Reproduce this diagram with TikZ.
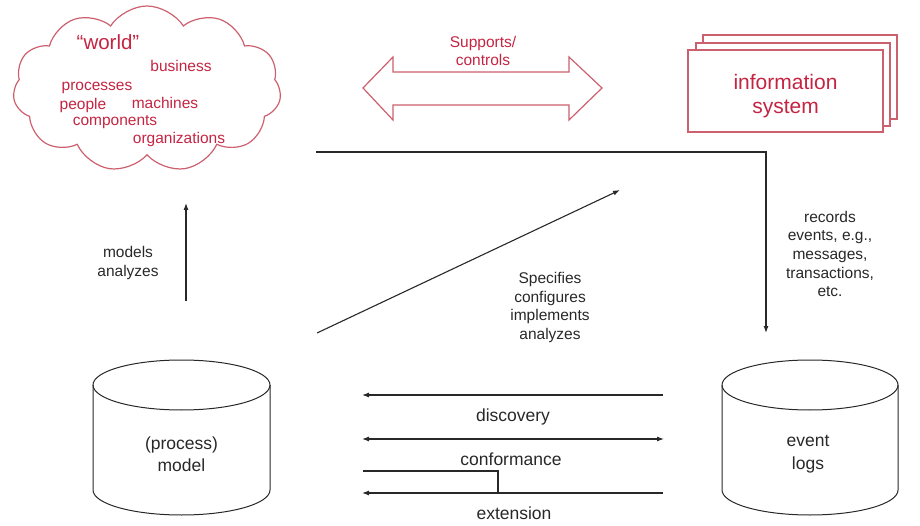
\documentclass[tikz,border=0pt]{standalone}
\usepackage{fontspec}
\setmainfont{Liberation Sans}
\usetikzlibrary{shapes.symbols,arrows.meta}
\definecolor{wred}{RGB}{196,36,66}
\definecolor{wline}{RGB}{204,96,110}
\definecolor{ink}{RGB}{40,40,40}
\tikzset{
  redtext/.style={text=wred,inner sep=0pt,font=\fontsize{15.5}{18}\selectfont},
  lbl/.style={text=ink,inner sep=0pt,align=center,font=\fontsize{15.5}{18.7}\selectfont},
  biglbl/.style={text=ink,inner sep=0pt,align=center,font=\fontsize{17.5}{22.5}\selectfont},
  conn/.style={draw=ink,line width=1.1pt,-{Latex[length=7pt,width=5pt]}},
  plain/.style={draw=ink,line width=1.1pt},
  cyl/.style={draw=ink,line width=1pt},
}
\begin{document}
\begin{tikzpicture}[x=1pt,y=-1pt]
\useasboundingbox (0,0) rectangle (920,526);
% cloud
\node[cloud,draw=wline,line width=1.2pt,cloud puffs=11,cloud puff arc=115,aspect=1.7,
      minimum width=268pt,minimum height=166pt,inner sep=0pt] (world) at (147,89) {};
\node[redtext,font=\fontsize{20.5}{24}\selectfont] (tw) at (108,42) {“world”};
\node[redtext] (t1) at (181,66) {business};
\node[redtext] (t2) at (97,88) {processes};
\node[redtext] (t3) at (83,105) {people};
\node[redtext] (t4) at (165,103) {machines};
\node[redtext] (t5) at (115,122) {components};
\node[redtext] (t6) at (179,139) {organizations};
% double arrow
\draw[wline,line width=1.2pt,line join=miter] (363,88) -- (393,57) -- (393,72) -- (569,72) -- (569,57) -- (602,88) -- (569,120) -- (569,105) -- (393,105) -- (393,120) -- cycle;
\node[redtext,align=center,font=\fontsize{15.5}{18}\selectfont] (sup) at (483,51) {Supports/\\controls};
% information system stack
\draw[wline,line width=1.2pt,fill=white] (703,35) rectangle (897,119);
\draw[wline,line width=1.2pt,fill=white] (696,43) rectangle (890,126);
\node[draw=wline,line width=1.2pt,fill=white,minimum width=195pt,minimum height=82pt] (is) at (785.5,91) {};
\node[text=wred,inner sep=0pt,align=center,font=\fontsize{21}{24}\selectfont] (ist) at (785.5,96) {information\\system};
% cylinders
\draw[cyl] (181.5,385) ellipse [x radius=88.5,y radius=25];
\draw[cyl] (93,385) -- (93,490) .. controls (93,503.8) and (132.6,515) .. (181.5,515)
   .. controls (230.4,515) and (270,503.8) .. (270,490) -- (270,385);
\node[biglbl] (model) at (181.5,454) {(process)\\model};
\draw[cyl] (810,385) ellipse [x radius=88,y radius=25];
\draw[cyl] (722,385) -- (722,490) .. controls (722,503.8) and (761.4,515) .. (810,515)
   .. controls (858.6,515) and (898,503.8) .. (898,490) -- (898,385);
\node[biglbl] (logs) at (808,454) {event\\logs};
% records connector
\coordinate (rs) at (316,152);
\coordinate (rc) at (766,152);
\coordinate (re) at (766,333);
\draw[conn] (rs) -- (rc) -- (re);
\node[lbl] (rec) at (830,254) {records\\events, e.g.,\\messages,\\transactions,\\etc.};
% diagonal
\coordinate (ds) at (317,333);
\coordinate (de) at (620,190);
\draw[conn] (ds) -- (de);
\node[lbl] (spec) at (550,307.5) {Specifies\\configures\\implements\\analyzes};
% models arrow
\coordinate (ms) at (186,301);
\coordinate (me) at (186,203);
\draw[conn] (ms) -- (me);
\node[lbl] (mod) at (128,263) {models\\analyzes};
% bottom arrows
\coordinate (d1) at (663,395);
\coordinate (d2) at (362,395);
\draw[conn] (d1) -- (d2);
\node[biglbl] (disc) at (513,417) {discovery};
\coordinate (c1) at (362,439);
\coordinate (c2) at (664,439);
\draw[conn,{Latex[length=7pt,width=5pt]}-{Latex[length=7pt,width=5pt]}] (c1) -- (c2);
\node[biglbl] (conf) at (511,459) {conformance};
\coordinate (e0) at (363,471);
\coordinate (e1) at (498,471);
\coordinate (e2) at (498,493);
\draw[plain] (e0) -- (e1) -- (e2);
\coordinate (e3) at (663,493);
\coordinate (e4) at (362,493);
\draw[conn] (e3) -- (e4);
\node[biglbl] (ext) at (514,513) {extension};
\end{tikzpicture}
\end{document}
